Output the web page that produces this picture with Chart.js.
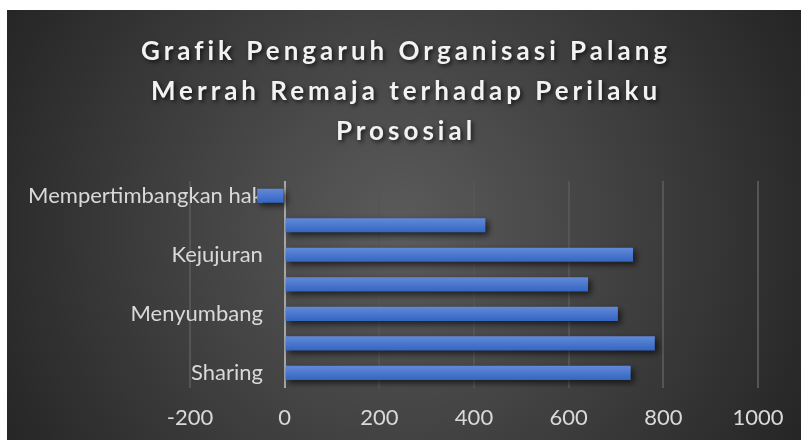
<!DOCTYPE html>
<html>
<head>
<meta charset="utf-8">
<script src="https://cdn.jsdelivr.net/npm/chart.js@4"></script>
<style>
  html, body { margin: 0; padding: 0; background: #fff; }
  #wrap { width: 801px; height: 440px; }
</style>
</head>
<body>
<div id="wrap"><canvas id="prosChart" width="801" height="440"></canvas></div>
<script>
  // kategori dari bawah ke atas (urutan Excel)
  const categories = ['Sharing', 'Kerjasama', 'Menyumbang', 'Menolong', 'Kejujuran', 'Kedermawanan', 'Mempertimbangkan hak'];
  const values = [731, 782, 704, 641, 736, 424, -58];
  const titleLines = ['Grafik Pengaruh Organisasi Palang', 'Merrah Remaja terhadap Perilaku', 'Prososial'];
  const xMin = -200, xMax = 1000, xStep = 200;

  // latar gelap + judul + bayangan batang
  const frame = {
    id: 'frame',
    beforeDraw(chart) {
      const c = chart.ctx;
      c.save();
      c.fillStyle = '#ffffff';
      c.fillRect(0, 0, chart.width, chart.height);
      const g = c.createRadialGradient(400, 230, 10, 400, 230, 470);
      g.addColorStop(0, '#5a5a5a');
      g.addColorStop(1, '#232323');
      c.fillStyle = g;
      c.fillRect(7, 10, chart.width - 7, chart.height - 10);
      c.restore();
    },
    afterDraw(chart) {
      const c = chart.ctx;
      c.save();
      c.font = 'bold 26px Lato';
      c.letterSpacing = '4px';
      c.textAlign = 'center';
      c.textBaseline = 'middle';
      c.fillStyle = '#f2f2f2';
      c.shadowColor = 'rgba(0,0,0,0.7)';
      c.shadowBlur = 4;
      c.shadowOffsetX = 2;
      c.shadowOffsetY = 2;
      titleLines.forEach((t, i) => c.fillText(t, 406, 52 + i * 40));
      c.restore();
    },
    beforeDatasetDraw(chart) {
      const c = chart.ctx;
      c.save();
      c.shadowColor = 'rgba(0,0,0,0.65)';
      c.shadowBlur = 6;
      c.shadowOffsetX = 3;
      c.shadowOffsetY = 3;
    },
    afterDatasetDraw(chart) {
      chart.ctx.restore();
    }
  };

  const barFill = (cx) => {
    const el = cx.element;
    if (!el || !Number.isFinite(el.y)) return '#4a78cc';
    const g = cx.chart.ctx.createLinearGradient(0, el.y - 7, 0, el.y + 7);
    g.addColorStop(0, '#6289d8');
    g.addColorStop(1, '#3466c2');
    return g;
  };

  const ctx = document.getElementById('prosChart').getContext('2d');
  const myChart = new Chart(ctx, {
    type: 'bar',
    data: {
      labels: categories,
      datasets: [{
        label: 'Perilaku Prososial',
        data: values,
        backgroundColor: barFill,
        borderWidth: 0,
        categoryPercentage: 1,
        barPercentage: 0.48
      }]
    },
    options: {
      indexAxis: 'y',
      responsive: false,
      animation: false,
      layout: { padding: { left: 190, right: 43, top: 181, bottom: -8 } },
      plugins: {
        legend: { display: false },
        title: { display: false },
        tooltip: { enabled: false }
      },
      scales: {
        x: {
          min: xMin,
          max: xMax,
          ticks: {
            stepSize: xStep,
            color: '#d9d9d9',
            font: { family: 'Lato', size: 22 },
            padding: 17,
            callback: (v) => String(v)
          },
          grid: {
            color: (c) => c.tick && c.tick.value === 0 ? '#a6a6a6' : '#555555',
            lineWidth: 2,
            drawTicks: false
          },
          border: { display: false }
        },
        y: {
          position: { x: -46 },
          reverse: true,
          ticks: {
            autoSkip: false,
            color: '#d9d9d9',
            font: { family: 'Lato', size: 22 },
            padding: 0,
            callback: function (v, i) { return i % 2 ? '' : this.getLabelForValue(v); }
          },
          grid: { display: false, drawTicks: false },
          border: { display: false }
        }
      }
    },
    plugins: [frame]
  });
  myChart.update();
</script>
</body>
</html>
